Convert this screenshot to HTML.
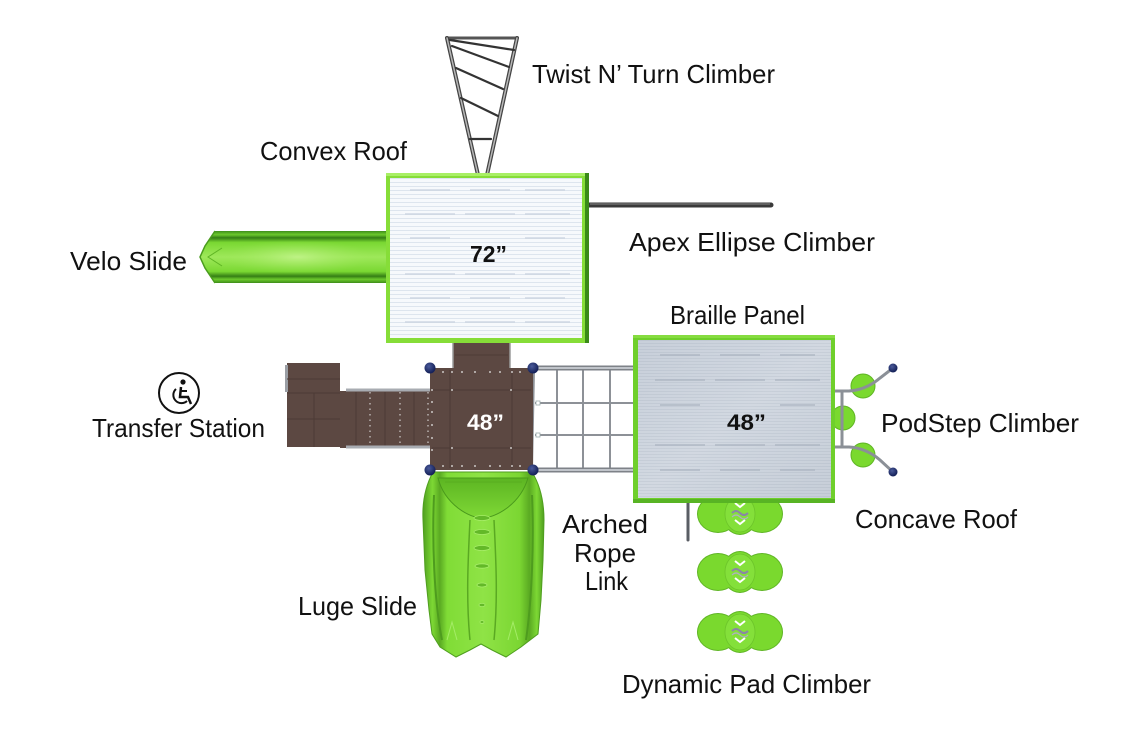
<!DOCTYPE html>
<html><head><meta charset="utf-8">
<style>
html,body{margin:0;padding:0;background:#fff;}
svg{display:block;}
text{font-family:"Liberation Sans",sans-serif;}
</style></head><body>
<svg width="1140" height="748" viewBox="0 0 1140 748" xmlns="http://www.w3.org/2000/svg">
<defs>
<pattern id="wstripe" width="10" height="4" patternUnits="userSpaceOnUse">
<rect width="10" height="4" fill="#f6f9fc"/>
<rect y="2" width="10" height="1" fill="#dde5ee"/>
</pattern>
<pattern id="gstripe" width="10" height="3" patternUnits="userSpaceOnUse">
<rect width="10" height="3" fill="#cdd4de"/>
<rect y="1" width="10" height="1" fill="#b6bfcb"/>
</pattern>
<linearGradient id="veloG" x1="0" y1="0" x2="0" y2="1">
<stop offset="0" stop-color="#3e8d1a"/>
<stop offset="0.07" stop-color="#6cc92c"/>
<stop offset="0.13" stop-color="#357f15"/>
<stop offset="0.22" stop-color="#7ad832"/>
<stop offset="0.5" stop-color="#9ee85a"/>
<stop offset="0.78" stop-color="#7ad832"/>
<stop offset="0.87" stop-color="#357f15"/>
<stop offset="0.93" stop-color="#6cc92c"/>
<stop offset="1" stop-color="#3e8d1a"/>
</linearGradient>
<radialGradient id="veloH" cx="0.45" cy="0.5" r="0.5">
<stop offset="0" stop-color="#c6f590" stop-opacity="0.8"/>
<stop offset="1" stop-color="#9ee85a" stop-opacity="0"/>
</radialGradient>
<linearGradient id="lugeG" x1="0" y1="0" x2="1" y2="0">
<stop offset="0" stop-color="#4f9e1f"/>
<stop offset="0.08" stop-color="#7dd834"/>
<stop offset="0.14" stop-color="#5aaa22"/>
<stop offset="0.2" stop-color="#80dc36"/>
<stop offset="0.5" stop-color="#8fe346"/>
<stop offset="0.8" stop-color="#7bd632"/>
<stop offset="0.88" stop-color="#5aaa22"/>
<stop offset="0.94" stop-color="#7dd834"/>
<stop offset="1" stop-color="#4f9e1f"/>
</linearGradient>
<linearGradient id="bowlG" x1="0" y1="0" x2="0" y2="1">
<stop offset="0" stop-color="#5cb522"/>
<stop offset="1" stop-color="#7fd836"/>
</linearGradient>
<linearGradient id="greyRoof" x1="0" y1="0" x2="1" y2="1">
<stop offset="0" stop-color="#c3cbd6"/>
<stop offset="0.5" stop-color="#d6dce4"/>
<stop offset="1" stop-color="#c1c9d3"/>
</linearGradient>
<radialGradient id="post" cx="0.4" cy="0.35" r="0.6">
<stop offset="0" stop-color="#4a5a9a"/>
<stop offset="1" stop-color="#16225a"/>
</radialGradient>
<g id="pad">
<g fill="#5fb524">
<ellipse cx="-22" cy="0" rx="21" ry="19"/>
<ellipse cx="22" cy="0" rx="21" ry="19"/>
<ellipse cx="0" cy="0" rx="18" ry="21"/>
</g>
<g fill="#7ad92e">
<ellipse cx="-22" cy="0" rx="20" ry="18"/>
<ellipse cx="22" cy="0" rx="20" ry="18"/>
<ellipse cx="0" cy="0" rx="17" ry="20"/>
</g>
<ellipse cx="0" cy="0" rx="15" ry="18" fill="#84e03a" stroke="#6cc42a" stroke-width="0.8"/>
<path d="M-5,-11 L0,-7 L5,-11" fill="none" stroke="#fff" stroke-width="2"/>
<path d="M-5,6 L0,10 L5,6" fill="none" stroke="#fff" stroke-width="2"/>
<path d="M-8,-1 Q-4,-5 0,-1 Q4,3 8,-1" fill="none" stroke="#8a86a6" stroke-width="2"/>
<path d="M-8,3 Q-4,-1 0,3 Q4,7 8,3" fill="none" stroke="#b0aec4" stroke-width="1.2"/>
</g>
</defs>

<!-- Twist N' Turn climber -->
<g stroke-linecap="round">
<line x1="447" y1="38" x2="517" y2="38" stroke="#555" stroke-width="3"/>
<line x1="447" y1="38" x2="478" y2="175" stroke="#444" stroke-width="4"/>
<line x1="447" y1="38" x2="478" y2="175" stroke="#b8b8b8" stroke-width="1.5"/>
<line x1="517" y1="38" x2="487" y2="175" stroke="#444" stroke-width="4"/>
<line x1="517" y1="38" x2="487" y2="175" stroke="#b8b8b8" stroke-width="1.5"/>
<g stroke="#333" stroke-width="2.2">
<line x1="450" y1="40" x2="514" y2="50"/>
<line x1="452" y1="46" x2="509" y2="67"/>
<line x1="456" y1="68" x2="503" y2="89"/>
<line x1="461" y1="98" x2="498" y2="116"/>
<line x1="470" y1="139" x2="491" y2="139"/>
</g>
</g>

<!-- Apex ellipse climber bar -->
<line x1="588" y1="205" x2="771" y2="205" stroke="#3a3a3a" stroke-width="5" stroke-linecap="round"/>
<line x1="590" y1="204" x2="770" y2="204" stroke="#777" stroke-width="1.2"/>

<!-- Velo slide -->
<path d="M215,231 L205,246 L200,257 L205,268 L215,283 L388,283 L388,231 Z" fill="url(#veloG)"/>
<rect x="230" y="240" width="150" height="34" fill="url(#veloH)"/>
<path d="M215,231 L205,246 L200,257 L205,268 L215,283" fill="none" stroke="#4a9c1e" stroke-width="1.5"/>
<path d="M222,248 L208,257 L222,266" fill="none" stroke="#5fb524" stroke-width="1"/>

<!-- 72 roof -->
<rect x="386" y="173" width="202" height="170" fill="#86dd38"/>
<rect x="386" y="173" width="202" height="3" fill="#a9ef66"/>
<rect x="585" y="173" width="4" height="170" fill="#3a8a18"/>
<rect x="390" y="178" width="192" height="160" fill="url(#wstripe)"/>
<g stroke="#c8d2de" stroke-width="1.2">
<line x1="410" y1="190" x2="450" y2="190"/><line x1="470" y1="190" x2="510" y2="190"/><line x1="525" y1="190" x2="565" y2="190"/>
<line x1="405" y1="214" x2="455" y2="214"/><line x1="465" y1="214" x2="515" y2="214"/><line x1="525" y1="214" x2="570" y2="214"/>
<line x1="410" y1="238" x2="450" y2="238"/><line x1="525" y1="238" x2="565" y2="238"/>
<line x1="405" y1="274" x2="455" y2="274"/><line x1="465" y1="274" x2="515" y2="274"/><line x1="525" y1="274" x2="570" y2="274"/>
<line x1="410" y1="298" x2="450" y2="298"/><line x1="470" y1="298" x2="510" y2="298"/><line x1="525" y1="298" x2="565" y2="298"/>
<line x1="405" y1="322" x2="455" y2="322"/><line x1="465" y1="322" x2="515" y2="322"/><line x1="525" y1="322" x2="570" y2="322"/>
</g>
<text x="470" y="262" font-size="23" font-weight="bold" fill="#111" textLength="37" lengthAdjust="spacingAndGlyphs">72”</text>

<!-- connector between roof and deck -->
<rect x="453" y="343" width="57" height="26" fill="#5c4842"/>
<line x1="453" y1="343" x2="453" y2="369" stroke="#9a9a9a" stroke-width="1.5"/>
<line x1="510" y1="343" x2="510" y2="369" stroke="#9a9a9a" stroke-width="1.5"/>
<line x1="455" y1="355" x2="508" y2="355" stroke="#4e3c37" stroke-width="1"/>

<!-- Transfer station -->
<rect x="287" y="363" width="53" height="84" fill="#5c4842"/>
<rect x="285" y="365" width="3" height="27" fill="#9a9ea4"/>
<g stroke="#4c3a35" stroke-width="1">
<line x1="287" y1="379" x2="340" y2="379"/>
<line x1="287" y1="393" x2="340" y2="393"/>
<line x1="287" y1="419" x2="340" y2="419"/>
<line x1="314" y1="393" x2="314" y2="447"/>
</g>
<rect x="340" y="391" width="91" height="57" fill="#5c4842"/>
<g stroke="#4c3a35" stroke-width="1">
<line x1="356" y1="392" x2="356" y2="447"/>
<line x1="385" y1="392" x2="385" y2="447"/>
<line x1="414" y1="392" x2="414" y2="447"/>
</g>
<g stroke="#e8e8e8" stroke-width="1" stroke-dasharray="1.5,4">
<line x1="370" y1="392" x2="370" y2="447"/>
<line x1="400" y1="392" x2="400" y2="447"/>
<line x1="428" y1="392" x2="428" y2="447"/>
</g>
<line x1="346" y1="390" x2="431" y2="390" stroke="#a8acb2" stroke-width="3"/>
<line x1="346" y1="447" x2="431" y2="447" stroke="#a8acb2" stroke-width="3"/>

<!-- Rope link -->
<rect x="533" y="368" width="100" height="102" fill="#fff"/>
<g stroke="#8d9197" stroke-width="2">
<line x1="557" y1="369" x2="557" y2="470"/>
<line x1="583" y1="369" x2="583" y2="470"/>
<line x1="610" y1="369" x2="610" y2="470"/>
<line x1="535" y1="403" x2="633" y2="403"/>
<line x1="535" y1="435" x2="633" y2="435"/>
</g>
<line x1="534" y1="369" x2="532" y2="470" stroke="#8d9197" stroke-width="2"/>
<line x1="537" y1="368" x2="633" y2="368" stroke="#7e8288" stroke-width="5"/>
<line x1="537" y1="368" x2="633" y2="368" stroke="#c0c4ca" stroke-width="2"/>
<line x1="537" y1="470" x2="633" y2="470" stroke="#7e8288" stroke-width="5"/>
<line x1="537" y1="470" x2="633" y2="470" stroke="#c0c4ca" stroke-width="2"/>
<rect x="536" y="401" width="4" height="4" fill="#fff" stroke="#9aa" stroke-width="0.8"/>
<rect x="536" y="433" width="4" height="4" fill="#fff" stroke="#9aa" stroke-width="0.8"/>

<!-- Luge slide -->
<path d="M433,472 C426,485 422,500 423,520 L425,570 L429,610 L432,634 L440,647 L456,657 L470,650 L481,644 L492,650 L506,657 L521,647 L538,634 L541,600 L543,560 L544,520 C544,500 540,485 532,472 Z" fill="url(#lugeG)" stroke="#4f9e1f" stroke-width="1"/>
<path d="M438,478 C445,505 470,518 482,518 C495,518 520,505 528,478 Z" fill="url(#bowlG)" stroke="#4a9a1c" stroke-width="1"/>
<path d="M445,482 L522,482" stroke="#5cb322" stroke-width="2"/>
<path d="M470,520 C468,560 466,600 470,640" fill="none" stroke="#5aa922" stroke-width="1.5"/>
<path d="M494,520 C496,560 498,600 494,640" fill="none" stroke="#5aa922" stroke-width="1.5"/>
<path d="M434,495 C432,540 434,600 442,640" fill="none" stroke="#4e9c1e" stroke-width="2"/>
<path d="M532,495 C534,540 532,600 526,640" fill="none" stroke="#4e9c1e" stroke-width="2"/>
<g fill="#63b928" stroke="#a8ee6a" stroke-width="0.8">
<ellipse cx="482" cy="518" rx="8" ry="2.5"/>
<ellipse cx="482" cy="532" rx="8" ry="2.5"/>
<ellipse cx="482" cy="548" rx="8" ry="2.5"/>
<ellipse cx="482" cy="566" rx="7" ry="2.2"/>
<ellipse cx="482" cy="585" rx="5" ry="2"/>
<ellipse cx="482" cy="605" rx="3" ry="1.6"/>
<ellipse cx="482" cy="622" rx="2" ry="1.4"/>
</g>
<path d="M447,640 L452,622 L457,640" fill="none" stroke="#a4ec66" stroke-width="1"/>
<path d="M508,640 L513,622 L518,640" fill="none" stroke="#a4ec66" stroke-width="1"/>

<!-- 48 deck -->
<rect x="430" y="368" width="103" height="102" fill="#5c4842"/>
<g stroke="#4c3a35" stroke-width="1">
<line x1="450" y1="370" x2="450" y2="468"/>
<line x1="512" y1="370" x2="512" y2="468"/>
<line x1="432" y1="390" x2="531" y2="390"/>
<line x1="432" y1="448" x2="531" y2="448"/>
</g>
<g fill="#ececec">
<circle cx="443" cy="372" r="0.9"/><circle cx="452" cy="372" r="0.9"/><circle cx="462" cy="372" r="0.9"/><circle cx="475" cy="372" r="0.9"/><circle cx="490" cy="372" r="0.9"/><circle cx="500" cy="372" r="0.9"/><circle cx="512" cy="372" r="0.9"/><circle cx="520" cy="372" r="0.9"/>
<circle cx="443" cy="466" r="0.9"/><circle cx="452" cy="466" r="0.9"/><circle cx="462" cy="466" r="0.9"/><circle cx="475" cy="466" r="0.9"/><circle cx="490" cy="466" r="0.9"/><circle cx="500" cy="466" r="0.9"/><circle cx="512" cy="466" r="0.9"/><circle cx="520" cy="466" r="0.9"/>
<circle cx="432" cy="390" r="0.9"/><circle cx="432" cy="402" r="0.9"/><circle cx="432" cy="412" r="0.9"/><circle cx="432" cy="425" r="0.9"/><circle cx="432" cy="438" r="0.9"/><circle cx="432" cy="450" r="0.9"/>
<circle cx="452" cy="390" r="0.9"/><circle cx="511" cy="390" r="0.9"/><circle cx="452" cy="448" r="0.9"/><circle cx="511" cy="448" r="0.9"/>
</g>
<text x="467" y="430" font-size="22" font-weight="bold" fill="#fff" textLength="37" lengthAdjust="spacingAndGlyphs">48”</text>
<g>
<circle cx="430" cy="368" r="5.5" fill="url(#post)"/>
<circle cx="533" cy="368" r="5.5" fill="url(#post)"/>
<circle cx="430" cy="470" r="5.5" fill="url(#post)"/>
<circle cx="533" cy="470" r="5.5" fill="url(#post)"/>
</g>

<!-- Dynamic pad climbers -->
<line x1="688" y1="500" x2="688" y2="540" stroke="#5a5e64" stroke-width="3" stroke-linecap="round"/>
<use href="#pad" transform="translate(740,514)"/>
<use href="#pad" transform="translate(740,572)"/>
<use href="#pad" transform="translate(740,632)"/>

<!-- PodStep climber -->
<circle cx="843" cy="418" r="12" fill="#7ad92e" stroke="#5fb524" stroke-width="1"/>
<circle cx="863" cy="386" r="12" fill="#7ad92e" stroke="#5fb524" stroke-width="1"/>
<circle cx="863" cy="455" r="12" fill="#7ad92e" stroke="#5fb524" stroke-width="1"/>
<g fill="none" stroke="#8b9097" stroke-width="3" stroke-linecap="round">
<path d="M835,391 L849,391 Q866,390 880,378 L893,368"/>
<path d="M835,447 L849,447 Q866,448 880,460 L893,472"/>
<line x1="842" y1="391" x2="842" y2="447"/>
</g>
<circle cx="893" cy="368" r="4.5" fill="url(#post)"/>
<circle cx="893" cy="472" r="4.5" fill="url(#post)"/>

<!-- 48 right roof -->
<rect x="633" y="335" width="202" height="168" fill="#6fcf2c"/>
<rect x="633" y="335" width="202" height="3" fill="#86dc40"/>
<rect x="633" y="499" width="202" height="4" fill="#58b424"/>
<rect x="638" y="340" width="193" height="158" fill="url(#gstripe)"/>
<rect x="638" y="340" width="193" height="158" fill="url(#greyRoof)" opacity="0.55"/>
<g stroke="#aab3c0" stroke-width="1.2">
<line x1="660" y1="355" x2="700" y2="355"/><line x1="720" y1="355" x2="760" y2="355"/><line x1="780" y1="355" x2="815" y2="355"/>
<line x1="655" y1="380" x2="705" y2="380"/><line x1="715" y1="380" x2="765" y2="380"/><line x1="775" y1="380" x2="820" y2="380"/>
<line x1="660" y1="405" x2="700" y2="405"/><line x1="780" y1="405" x2="815" y2="405"/>
<line x1="655" y1="445" x2="705" y2="445"/><line x1="715" y1="445" x2="765" y2="445"/><line x1="775" y1="445" x2="820" y2="445"/>
<line x1="660" y1="470" x2="700" y2="470"/><line x1="720" y1="470" x2="760" y2="470"/><line x1="780" y1="470" x2="815" y2="470"/>
</g>
<text x="727" y="430" font-size="22" font-weight="bold" fill="#111" textLength="39" lengthAdjust="spacingAndGlyphs">48”</text>

<!-- Wheelchair icon -->
<g stroke="#111" fill="none" stroke-width="2">
<circle cx="179" cy="393" r="20"/>
<path d="M181,387 L180,397 L188,397 L191,404" stroke-width="2.5"/>
<path d="M181,391 L187,391"/>
<path d="M176,389 A8,8 0 1,0 187,401"/>
</g>
<circle cx="183" cy="382" r="2.6" fill="#111"/>

<!-- Labels -->
<g fill="#111" font-size="26">
<text x="532" y="83" textLength="243" lengthAdjust="spacingAndGlyphs">Twist N’ Turn Climber</text>
<text x="260" y="160" textLength="147" lengthAdjust="spacingAndGlyphs">Convex Roof</text>
<text x="70" y="270" textLength="117" lengthAdjust="spacingAndGlyphs">Velo Slide</text>
<text x="629" y="251" textLength="246" lengthAdjust="spacingAndGlyphs">Apex Ellipse Climber</text>
<text x="670" y="324" textLength="135" lengthAdjust="spacingAndGlyphs">Braille Panel</text>
<text x="92" y="437" textLength="173" lengthAdjust="spacingAndGlyphs">Transfer Station</text>
<text x="881" y="432" textLength="198" lengthAdjust="spacingAndGlyphs">PodStep Climber</text>
<text x="855" y="528" textLength="162" lengthAdjust="spacingAndGlyphs">Concave Roof</text>
<text x="562" y="533" textLength="86" lengthAdjust="spacingAndGlyphs">Arched</text>
<text x="574" y="562" textLength="62" lengthAdjust="spacingAndGlyphs">Rope</text>
<text x="585" y="590" textLength="43" lengthAdjust="spacingAndGlyphs">Link</text>
<text x="298" y="615" textLength="119" lengthAdjust="spacingAndGlyphs">Luge Slide</text>
<text x="622" y="693" textLength="249" lengthAdjust="spacingAndGlyphs">Dynamic Pad Climber</text>
</g>
</svg>
</body></html>
